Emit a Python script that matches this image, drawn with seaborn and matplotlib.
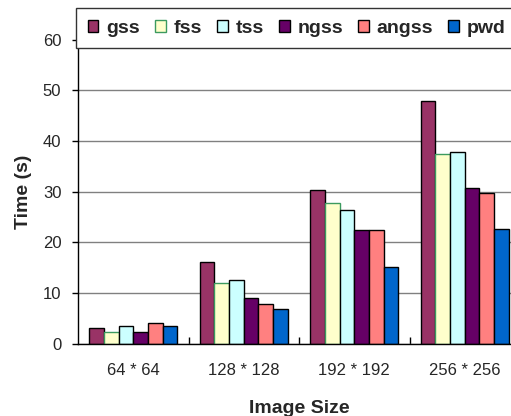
import matplotlib
matplotlib.use("Agg")
import matplotlib.pyplot as plt
import seaborn as sns
import pandas as pd
from matplotlib.patches import Patch

sizes = ["64 * 64", "128 * 128", "192 * 192", "256 * 256"]
methods = ["gss", "fss", "tss", "ngss", "angss", "pwd"]
gss = [3.1, 16.1, 30.4, 47.9]
fss = [2.3, 12.0, 27.8, 37.4]
tss = [3.4, 12.6, 26.4, 37.9]
ngss = [2.3, 9.0, 22.4, 30.7]
angss = [4.0, 7.9, 22.4, 29.7]
pwd = [3.4, 6.8, 15.2, 22.7]
colors = ["#993366", "#FFFFCC", "#CCFFFF", "#660066", "#FF8080", "#0066CC"]
edges = ["black", "#3c9a5f", "black", "black", "black", "black"]

series = dict(zip(methods, [gss, fss, tss, ngss, angss, pwd]))
df = pd.DataFrame([
    {"size": s, "method": m, "time": series[m][i]}
    for m in methods for i, s in enumerate(sizes)
])

sns.set_style("white")
plt.rcParams["font.family"] = ["Liberation Sans", "DejaVu Sans"]

fig = plt.figure(figsize=(5.11, 4.16), dpi=100)
ax = fig.add_axes([78 / 511, (416 - 343.7) / 416, 442 / 511, (343.7 - 39.5) / 416])

sns.barplot(data=df, x="size", y="time", hue="method", order=sizes,
            hue_order=methods, palette=colors, width=0.8, ax=ax,
            edgecolor="black", linewidth=1.0, legend=False, saturation=1)

# per-series edge colours
for container, ec in zip(ax.containers, edges):
    for bar in container:
        bar.set_edgecolor(ec)

ax.set_xlim(-0.5, 3.5)
ax.set_ylim(0, 60)
ax.set_yticks(range(0, 61, 10))
ax.yaxis.grid(True, color="#808080", linewidth=1.0)
ax.set_axisbelow(True)
for side in ["top", "right"]:
    ax.spines[side].set_visible(False)
for side in ["left", "bottom"]:
    ax.spines[side].set_color("black")
    ax.spines[side].set_linewidth(1.0)

ax.tick_params(axis="y", which="major", direction="out", length=4,
               width=1, color="black", labelsize=12, pad=8, left=True)
ax.tick_params(axis="x", which="major", length=0, labelsize=12, pad=14)
ax.set_xticks([0.5, 1.5, 2.5], minor=True)
ax.tick_params(axis="x", which="minor", direction="in", length=5,
               width=1, color="black", bottom=True)

ax.set_xlabel("Image Size", fontsize=14, fontweight="bold", labelpad=16)
ax.set_ylabel("Time (s)", fontsize=14, fontweight="bold", labelpad=8)

handles = [Patch(facecolor=c, edgecolor=e, linewidth=1.0)
           for c, e in zip(colors, edges)]
leg = fig.legend(handles, methods, loc="upper left", ncol=6,
                 bbox_to_anchor=(76 / 511, 1 - 8 / 416),
                 prop={"size": 14, "weight": "bold"},
                 frameon=True, fancybox=False, framealpha=1,
                 edgecolor="#333333", handlelength=0.55, handleheight=0.55,
                 handletextpad=0.4, columnspacing=0.78, borderpad=0.6,
                 borderaxespad=0)
leg.get_frame().set_linewidth(1.0)

fig.savefig("out.png", dpi=100)
